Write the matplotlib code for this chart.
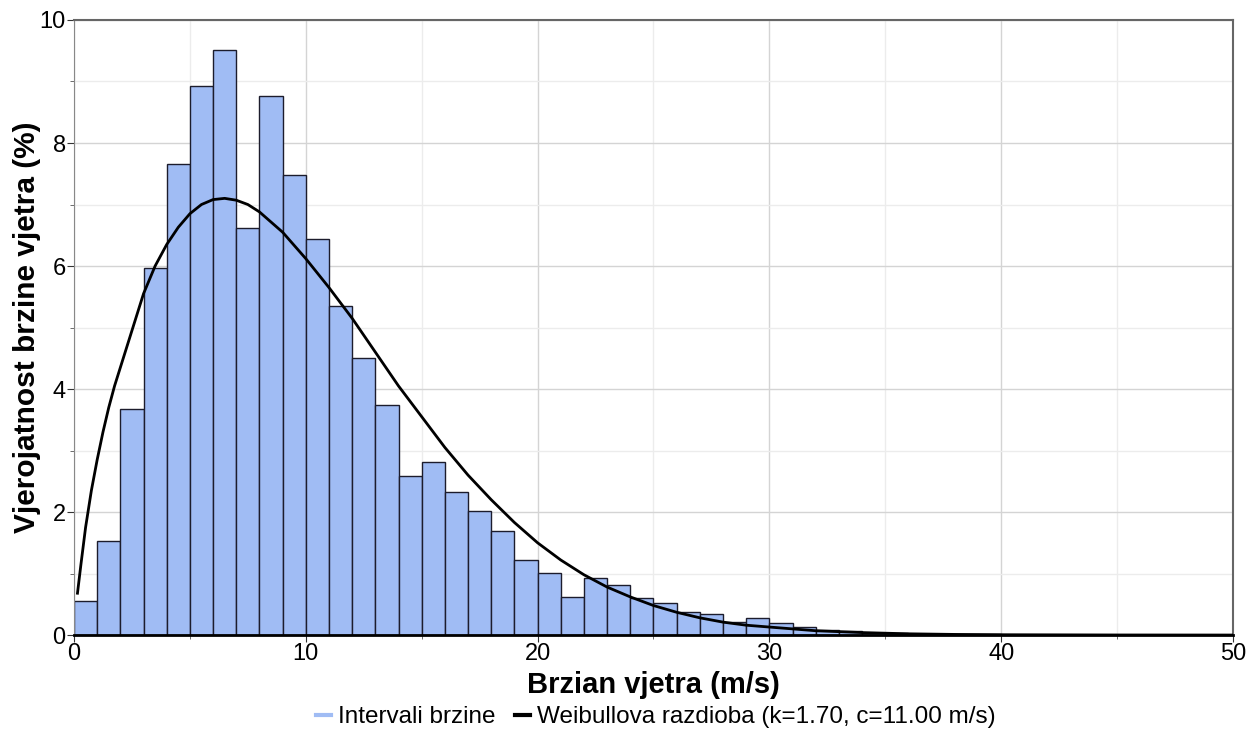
import numpy as np
import matplotlib.pyplot as plt
from matplotlib.lines import Line2D

plt.rcParams['font.family'] = ['Liberation Sans', 'DejaVu Sans']

# histogram bins (1 m/s wide), values in %
bin_left = np.arange(0, 50)
bar_vals = [0.56, 1.53, 3.67, 5.96, 7.66, 8.92, 9.52, 6.61, 8.76, 7.48,
            6.44, 5.35, 4.51, 3.74, 2.58, 2.81, 2.32, 2.02, 1.69, 1.22,
            1.01, 0.62, 0.92, 0.81, 0.60, 0.52, 0.38, 0.34, 0.22, 0.27,
            0.20, 0.13, 0.08, 0.06, 0.04, 0.03, 0.02, 0.01, 0.01, 0.01,
            0.0, 0.0, 0.0, 0.0, 0.0, 0.0, 0.0, 0.0, 0.0, 0.0]

# fitted curve, points
curve_v = [0.15, 0.3, 0.5, 0.75, 1.0, 1.25, 1.5, 1.75, 2.0, 2.5, 3, 3.5, 4,
           4.5, 5, 5.5, 6, 6.5, 7, 7.5, 8, 9, 10, 11, 12, 13,
           14, 15, 16, 17, 18, 19, 20, 21, 22, 23, 24, 25, 26, 27, 28, 29,
           30, 32, 34, 36, 38, 40, 45, 50]
curve_p = [0.68, 1.15, 1.75, 2.35, 2.85, 3.3, 3.7, 4.05, 4.35, 4.95, 5.55,
           6.0, 6.35, 6.63, 6.85, 7.0, 7.08, 7.1, 7.07, 7.0, 6.88,
           6.55, 6.12, 5.65, 5.15, 4.6, 4.05, 3.55, 3.05, 2.6, 2.2,
           1.83, 1.5, 1.22, 0.98, 0.78, 0.62, 0.48, 0.37, 0.28, 0.21, 0.16,
           0.13, 0.07, 0.04, 0.02, 0.01, 0.005, 0.001, 0.0]

fig = plt.figure(figsize=(12.52, 7.35), dpi=100)
ax = fig.add_axes([0.0591, 0.136, 0.9257, 0.8368])

ax.bar(bin_left, bar_vals, width=1.0, align='edge', color='#a0bcf4',
       edgecolor='#1c1c2c', linewidth=1.0, zorder=2)
ax.plot(curve_v, curve_p, color='black', linewidth=2.0, zorder=3)

ax.set_xlim(0, 50)
ax.set_ylim(0, 10)
ax.set_xticks(np.arange(0, 51, 10))
ax.set_xticks(np.arange(0, 51, 5), minor=True)
ax.set_yticks(np.arange(0, 11, 2))
ax.set_yticks(np.arange(0, 11, 1), minor=True)
ax.grid(which='major', color='#d4d4d4', linewidth=1.0, zorder=0)
ax.grid(which='minor', color='#ececec', linewidth=1.0, zorder=0)
ax.set_axisbelow(True)

ax.tick_params(axis='both', which='major', labelsize=17, length=5,
               color='#333333', pad=1)
ax.tick_params(axis='both', which='minor', length=3, color='#555555')

for s in ['top', 'right']:
    ax.spines[s].set_color('#666666')
    ax.spines[s].set_linewidth(1.5)
ax.spines['left'].set_color('#888888')
ax.spines['bottom'].set_color('black')
ax.spines['bottom'].set_linewidth(2.0)

ax.set_xlabel('Brzian vjetra (m/s)', fontsize=21, fontweight='bold', labelpad=4)
ax.set_ylabel('Vjerojatnost brzine vjetra (%)', fontsize=21.5,
              fontweight='bold', labelpad=-1)

handles = [Line2D([], [], color='#a0bcf4', linewidth=3),
           Line2D([], [], color='black', linewidth=3)]
labels = ['Intervali brzine', 'Weibullova razdioba (k=1.70, c=11.00 m/s)']
fig.legend(handles, labels, loc='center', bbox_to_anchor=(0.524, 0.024),
           ncol=2, frameon=False, handlelength=0.6,
           handletextpad=0.3, columnspacing=0.8,
           prop={'family': ['Liberation Sans Narrow', 'Liberation Sans'],
                 'size': 17.5})

fig.savefig('out.png', dpi=100)
